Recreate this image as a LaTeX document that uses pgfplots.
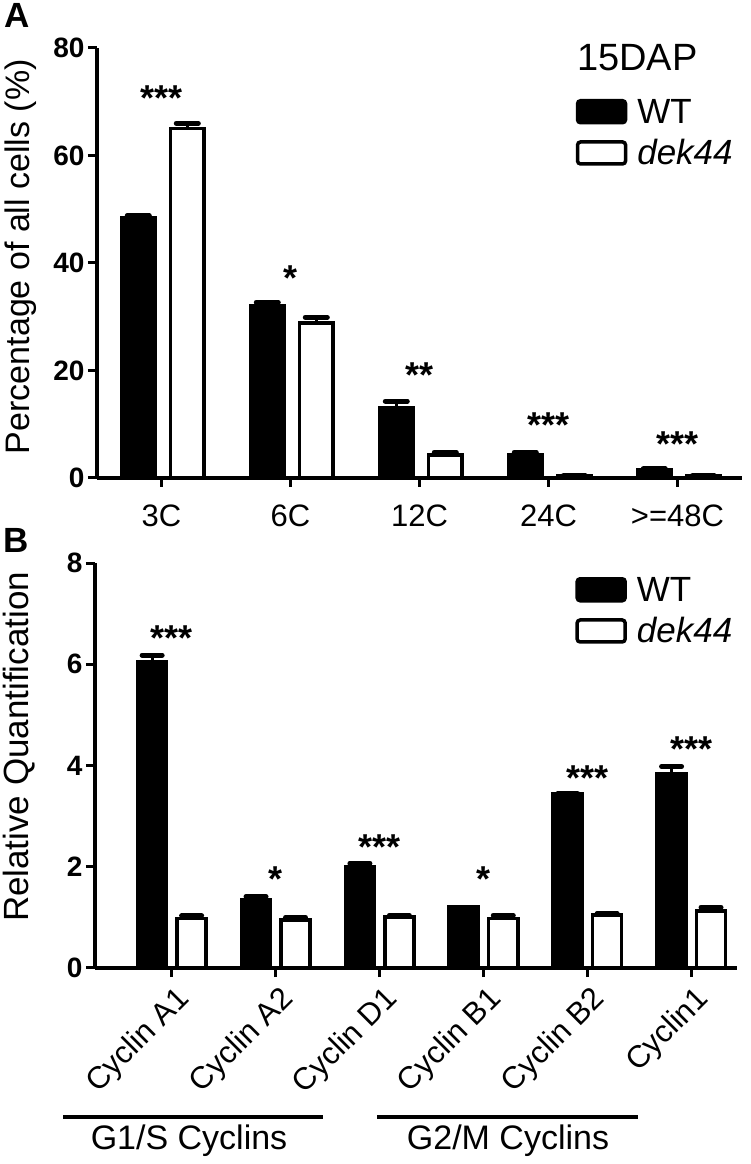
\documentclass[border=0pt]{standalone}
\usepackage{fontspec}
\setmainfont{Liberation Sans}
\usepackage{pgfplots}
\pgfplotsset{compat=1.18}
\usepackage{pgfplotstable}

\pgfplotstableread{
x wt wte dk dke
0 48.4 0.4 65.0 1.0
1 32.0 0.7 28.8 1.1
2 13.1 1.2 4.3 0.5
3 4.4 0.4 0.4 0.0
4 1.5 0.2 0.4 0.0
}\dataA

\pgfplotstableread{
x wt wte dk dke
0 6.04 0.14 0.98 0.05
1 1.34 0.07 0.95 0.05
2 2.00 0.07 1.01 0.03
3 1.20 0.00 0.98 0.06
4 3.44 0.00 1.05 0.03
5 3.83 0.15 1.13 0.07
}\dataB

\tikzset{sigstar/.style={anchor=north, inner sep=0pt, font=\fontsize{36}{36}\selectfont\bfseries}}

\pgfplotsset{
  common/.style={
    scale only axis, clip=false,
    axis x line*=bottom, axis y line*=left,
    axis line style={line width=3.5pt, -},
    tick align=outside, major tick length=9pt,
    tick style={line width=3pt, black},
    /pgf/number format/assume math mode=true,
    yticklabel style={font=\fontsize{28}{30}\selectfont\bfseries},
    legend cell align=left,
  },
  errs/.style={
    error bars/y dir=plus, error bars/y explicit, error bars/error mark=|,
    error bars/error bar style={line width=3pt, black},
    error bars/error mark options={mark size=#1, line width=5pt, line cap=round, black}},
  wtbar/.style={ybar, bar width=#1, bar shift=0pt, fill=black, draw=black, line width=3.5pt, forget plot},
  dkbar/.style={ybar, bar width=#1, bar shift=0pt, fill=white, draw=black, line width=3.5pt, forget plot},
  limg/.style={legend image code/.code={\draw[fill=#1, draw=black, line width=3.5pt, rounded corners=3pt] (0pt,-11pt) rectangle (48pt,11pt);}},
  leg/.style={legend style={at={#1}, anchor=north west, draw=none, fill=none,
    inner sep=0pt, row sep=15pt, font=\fontsize{35}{38}\selectfont,
    nodes={inner xsep=3pt, inner ysep=0pt},
    /tikz/every odd column/.append style={column sep=7pt}}},
}

\begin{document}
\begin{tikzpicture}
\useasboundingbox (0pt,0pt) rectangle (751pt,1164pt);

% ---------- Panel A ----------
\begin{axis}[common,
  at={(97pt,686pt)}, anchor=south west,
  width=645pt, height=430pt,
  xmin=-0.5, xmax=4.5, ymin=0, ymax=80,
  xtick={0,1,2,3,4}, xticklabels={3C,6C,12C,24C,{>=48C}},
  xticklabel style={font=\fontsize{31}{33}\selectfont, yshift=-14pt},
  ytick={0,20,40,60,80},
  ylabel={Percentage of all cells (\%)},
  ylabel style={font=\fontsize{34}{36}\selectfont, at={(axis description cs:-0.118,0.515)}, anchor=center},
  leg={(axis description cs:0.742,0.882)},
]
\addlegendimage{limg=black}
\addlegendentry{WT}
\addlegendimage{limg=white}
\addlegendentry{\textit{dek44}}
\addplot[wtbar=0.26, errs=11pt] table[x expr=\thisrow{x}-0.18, y=wt, y error=wte] {\dataA};
\addplot[dkbar=0.26, errs=11pt] table[x expr=\thisrow{x}+0.20, y=dk, y error=dke] {\dataA};
\node[sigstar] at (axis cs:0,73.1) {***};
\node[sigstar] at (axis cs:1,39.6) {*};
\node[sigstar] at (axis cs:2,21.4) {**};
\node[sigstar] at (axis cs:3,12.1) {***};
\node[sigstar] at (axis cs:4,8.7) {***};
\end{axis}

\node[anchor=west, inner sep=0pt, font=\fontsize{38}{40}\selectfont] at (577pt,1106pt) {15DAP};
\node[anchor=north west, inner sep=0pt, font=\fontsize{35}{36}\selectfont\bfseries] at (4pt,1161pt) {A};

% ---------- Panel B ----------
\begin{axis}[common,
  at={(95pt,196pt)}, anchor=south west,
  width=642pt, height=405pt,
  xmin=-0.74, xmax=5.44, ymin=0, ymax=8,
  xtick={0,1,2,3,4,5},
  xticklabels={Cyclin A1,Cyclin A2,Cyclin D1,Cyclin B1,Cyclin B2,Cyclin1},
  xticklabel style={font=\fontsize{31}{33}\selectfont, rotate=45, anchor=north east, yshift=-4pt},
  ytick={0,2,4,6,8},
  ylabel={Relative Quantification},
  ylabel style={font=\fontsize{35}{37}\selectfont, at={(axis description cs:-0.118,0.546)}, anchor=center},
  leg={(axis description cs:0.748,0.966)},
]
\addlegendimage{limg=black}
\addlegendentry{WT}
\addlegendimage{limg=white}
\addlegendentry{\textit{dek44}}
\addplot[wtbar=0.28, errs=10pt] table[x expr=\thisrow{x}-0.19, y=wt, y error=wte] {\dataB};
\addplot[dkbar=0.28, errs=10pt] table[x expr=\thisrow{x}+0.19, y=dk, y error=dke] {\dataB};
\node[sigstar] at (axis cs:0,6.76) {***};
\node[sigstar] at (axis cs:1,2.0) {*};
\node[sigstar] at (axis cs:2,2.63) {***};
\node[sigstar] at (axis cs:3,2.0) {*};
\node[sigstar] at (axis cs:4,3.99) {***};
\node[sigstar] at (axis cs:5,4.58) {***};
\end{axis}

\node[anchor=north west, inner sep=0pt, font=\fontsize{35}{36}\selectfont\bfseries] at (3pt,636pt) {B};

\draw[line width=4.5pt] (63pt,47pt) -- (323pt,47pt);
\draw[line width=4.5pt] (377pt,47pt) -- (638pt,47pt);
\node[anchor=base, inner sep=0pt, font=\fontsize{34}{36}\selectfont] at (189pt,14pt) {G1/S Cyclins};
\node[anchor=base, inner sep=0pt, font=\fontsize{34}{36}\selectfont] at (508pt,14pt) {G2/M Cyclins};
\end{tikzpicture}
\end{document}
